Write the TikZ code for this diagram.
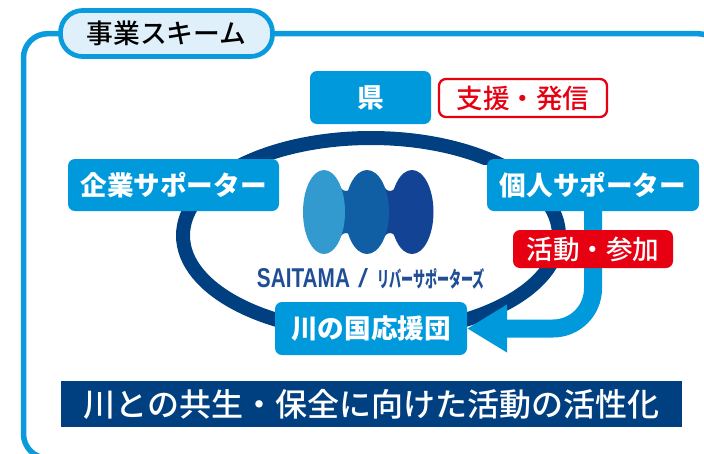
\documentclass[tikz,border=0pt]{standalone}
\usepackage{fontspec}
\usetikzlibrary{arrows.meta}
\setmainfont{Noto Sans CJK JP}
\newfontfamily\latinbold{Liberation Sans}
\newfontfamily\cjkmed{Noto Sans CJK JP Medium}
\definecolor{frameblue}{HTML}{0A9BDC}
\definecolor{boxblue}{HTML}{009ADC}
\definecolor{navy}{HTML}{004080}
\definecolor{pilllight}{HTML}{DFF0FA}
\definecolor{alertred}{HTML}{E60012}
\definecolor{logoa}{HTML}{329ACF}
\definecolor{logob}{HTML}{105FA5}
\definecolor{logoc}{HTML}{134394}
\definecolor{logotextc}{HTML}{1F4E96}
\tikzset{
  x=1pt,y=-1pt,
  boxbase/.style={inner sep=0pt,outer sep=0pt,rounded corners=7pt,anchor=north west,align=center},
  bluebox/.style={boxbase,fill=boxblue,text=white,font=\fontsize{26.6}{30}\selectfont\bfseries},
  redbox/.style={boxbase,fill=alertred,text=white,font=\fontsize{26.6}{30}\cjkmed},
  outlinebox/.style={boxbase,fill=white,draw=alertred,line width=2.3pt,text=alertred,font=\fontsize{26.6}{30}\cjkmed},
}
\begin{document}
\begin{tikzpicture}
\useasboundingbox (0,0) rectangle (704,453);
% frame
\draw[frameblue,line width=5.5pt,rounded corners=24pt] (50,458) -| (23.5,33.7) -| (722,60);
% title pill
\node[inner sep=0pt,outer sep=0pt,anchor=north west,minimum width=212pt,minimum height=46pt,rounded corners=22pt,fill=pilllight,draw=frameblue,line width=4.7pt,font=\fontsize{26.8}{30}\cjkmed] (title) at (60.5,10.5) {事業スキーム};
% ring
\draw[navy,line width=14pt] (371,235.5) ellipse[x radius=188,y radius=97.5];
% logo
\fill[white] (255,165) rectangle (487,296);
\fill[logoc] (378,176) .. controls (383,187) and (386,191) .. (390,191) .. controls (394,191) and (397,187) .. (401,176) -- (401,248) .. controls (397,237) and (394,233) .. (390,233) .. controls (386,233) and (383,237) .. (378,248) -- cycle;
\fill[logoc] (412,212) ellipse[x radius=21.5,y radius=42];
\fill[logob] (334,176) .. controls (339,187) and (342,191) .. (346,191) .. controls (350,191) and (353,187) .. (357,176) -- (357,248) .. controls (353,237) and (350,233) .. (346,233) .. controls (342,233) and (339,237) .. (334,248) -- cycle;
\fill[logob] (367,212) ellipse[x radius=22,y radius=42];
\fill[logoa] (324,212) ellipse[x radius=21,y radius=42];
\node[inner sep=0pt,text=logotextc] (logotext) at (371,278.5) {\resizebox{93pt}{19pt}{\latinbold\bfseries SAITAMA}\hspace{8pt}\resizebox{10pt}{19pt}{\latinbold /}\hspace{9pt}\resizebox{108pt}{19pt}{\bfseries リバーサポーターズ}};
% boxes
\node[bluebox,minimum width=121pt,minimum height=53pt] (ken) at (310,71) {県};
\node[outlinebox,minimum width=168pt,minimum height=38pt] (shien) at (439,79) {支援・発信};
\node[bluebox,minimum width=211pt,minimum height=52pt] (kigyo) at (68,159) {企業サポーター};
\node[bluebox,minimum width=212pt,minimum height=52pt] (kojin) at (487,159) {個人サポーター};
\node[bluebox,minimum width=192pt,minimum height=53pt] (ouen) at (275,302) {川の国応援団};
% arrow
\draw[boxblue,line width=18pt,rounded corners=40pt,-{Triangle[length=40pt,width=45pt,sep=0pt]}] (kojin.south) |- (ouen.east);
\node[redbox,minimum width=160pt,minimum height=38pt] (katsudo) at (513,230) {活動・参加};
% banner
\node[inner sep=0pt,outer sep=0pt,anchor=north west,fill=navy,text=white,minimum width=621pt,minimum height=46pt,font=\fontsize{32}{36}\cjkmed] (banner) at (61,381) {川との共生・保全に向けた活動の活性化};
\end{tikzpicture}
\end{document}
